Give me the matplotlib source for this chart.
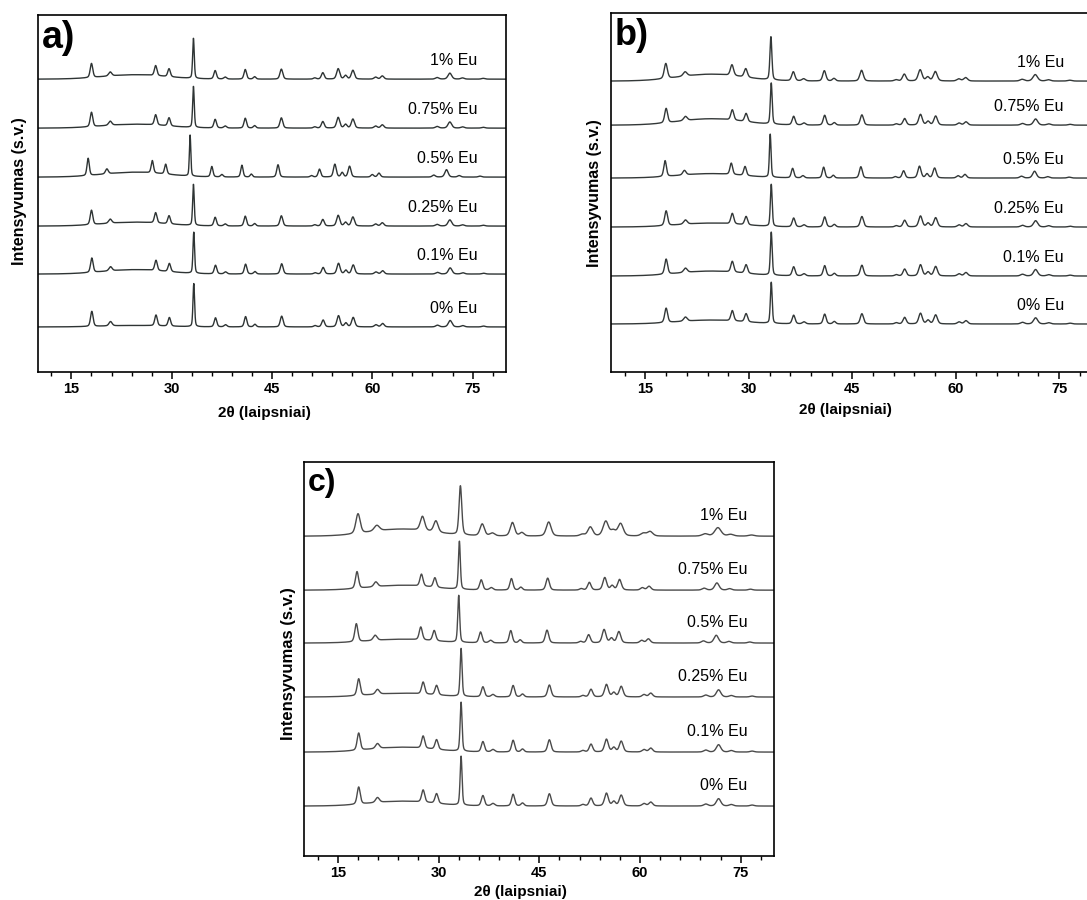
import matplotlib
import matplotlib.pyplot as plt
import numpy as np
from matplotlib.ticker import MultipleLocator, NullLocator

matplotlib.use("Agg")

plt.rcParams["font.family"] = ["Liberation Sans", "DejaVu Sans"]

FIG_W, FIG_H = 1087, 900

LABELS = ["0% Eu", "0.1% Eu", "0.25% Eu", "0.5% Eu", "0.75% Eu", "1% Eu"]

# reflections: 2theta, height relative to main peak, FWHM (deg)
PEAK_POS = [18.0, 20.8, 27.6, 29.6, 33.25, 36.5, 38.0, 41.0, 42.4, 46.4, 51.4,
            52.6, 54.9, 56.0, 57.1, 60.5, 61.5, 69.7, 71.6, 73.5, 76.6]
PEAK_REL = [0.35, 0.10, 0.25, 0.20, 1.0, 0.21, 0.05, 0.24, 0.06, 0.25, 0.03,
            0.16, 0.26, 0.09, 0.22, 0.05, 0.08, 0.04, 0.15, 0.03, 0.02]
PEAK_FWHM = [0.45, 0.55, 0.45, 0.45, 0.28, 0.45, 0.5, 0.45, 0.45, 0.5, 0.5,
             0.5, 0.55, 0.5, 0.55, 0.55, 0.55, 0.6, 0.65, 0.6, 0.6]

# per-sample values for each panel (order follows LABELS)
A_OFFSETS = [0.0, 1.08, 2.06, 3.06, 4.06, 5.06]
A_MAIN = [0.88, 0.84, 0.84, 0.84, 0.84, 0.82]
A_SHIFT = [0.05, 0.05, 0.0, -0.5, 0.0, 0.0]
A_HUMP = [0.03, 0.09, 0.08, 0.10, 0.08, 0.09]
A_MINOR = [1.0, 1.0, 1.0, 1.2, 1.0, 1.0]
A_WIDTH = [1.0, 1.0, 1.0, 0.9, 1.0, 1.0]

B_OFFSETS = [0.0, 0.98, 1.98, 2.98, 4.06, 4.96]
B_MAIN = [0.84, 0.88, 0.86, 0.88, 0.84, 0.88]
B_SHIFT = [0.0, 0.0, 0.0, -0.15, 0.0, -0.05]
B_HUMP = [0.08, 0.10, 0.08, 0.09, 0.13, 0.14]
B_MINOR = [1.0, 1.0, 1.0, 1.05, 1.0, 1.0]
B_WIDTH = [1.1, 1.1, 1.1, 1.0, 1.1, 1.2]

C_OFFSETS = [0.0, 1.0, 2.02, 3.02, 4.0, 5.0]
C_MAIN = [0.91, 0.91, 0.89, 0.87, 0.89, 0.91]
C_SHIFT = [0.1, 0.1, 0.1, -0.25, -0.15, 0.0]
C_HUMP = [0.09, 0.09, 0.07, 0.07, 0.09, 0.13]
C_MINOR = [1.0, 1.0, 1.0, 1.1, 1.0, 1.15]
C_WIDTH = [1.2, 1.2, 1.2, 1.2, 1.2, 1.7]

X_MIN, X_MAX = 10, 80


def pattern(x, main, shift, hump, minor, width):
    y = np.zeros_like(x)
    for pos, rel, fwhm in zip(PEAK_POS, PEAK_REL, PEAK_FWHM):
        w = fwhm * width
        h = main * rel * (1.0 if rel == 1.0 else minor)
        d = (x - pos - shift) / w
        lor = 1.0 / (1.0 + 4.0 * d ** 2)
        gau = np.exp(-4.0 * np.log(2) * d ** 2)
        y += h * (0.35 * lor + 0.65 * gau)
    # broad amorphous background between ~17 and 30 deg
    y += hump * np.exp(-4.0 * np.log(2) * ((x - 24.5) / 11.0) ** 2)
    return y


def px_rect(left, top, right, bottom):
    return [left / FIG_W, 1 - bottom / FIG_H, (right - left) / FIG_W, (bottom - top) / FIG_H]


def draw_panel(fig, rect, ylim, offsets, mains, shifts, humps, minors, widths,
               letter, letter_size, label_x, color):
    ax = fig.add_axes(rect)
    x = np.arange(X_MIN, X_MAX + 0.01, 0.02)
    for label, off, main, shift, hump, minor, width in zip(
            LABELS, offsets, mains, shifts, humps, minors, widths):
        ax.plot(x, off + pattern(x, main, shift, hump, minor, width), color=color, lw=1.0)
        ax.text(label_x, off + 0.38, label, ha="right", va="center", fontsize=11.5)
    ax.set_xlim(X_MIN, X_MAX)
    ax.set_ylim(*ylim)
    ax.xaxis.set_major_locator(MultipleLocator(15))
    ax.xaxis.set_minor_locator(MultipleLocator(3))
    ax.yaxis.set_major_locator(NullLocator())
    ax.tick_params(axis="x", which="major", direction="out", length=5, width=1.1, pad=2.5,
                   labelsize=10.5)
    ax.tick_params(axis="x", which="minor", direction="out", length=2.8, width=1.0)
    for label in ax.get_xticklabels():
        label.set_fontweight("bold")
    for spine in ax.spines.values():
        spine.set_linewidth(1.2)
    ax.text(0.008, 0.985, letter, transform=ax.transAxes, ha="left", va="top",
            fontsize=letter_size, fontweight="bold")
    return ax


def fig_text(fig, x, y, s, **kwargs):
    fig.text(x / FIG_W, 1 - y / FIG_H, s, ha="center", va="center", fontweight="bold", **kwargs)


def main():
    fig = plt.figure(figsize=(FIG_W / 100, FIG_H / 100), dpi=100)

    draw_panel(fig, px_rect(38, 15, 506, 372), (-0.92, 6.37), A_OFFSETS, A_MAIN, A_SHIFT,
               A_HUMP, A_MINOR, A_WIDTH, "a)", 27, 75.7, "#2e3434")
    draw_panel(fig, px_rect(611, 13, 1093.5, 372), (-0.98, 6.35), B_OFFSETS, B_MAIN, B_SHIFT,
               B_HUMP, B_MINOR, B_WIDTH, "b)", 26, 75.7, "#333838")
    draw_panel(fig, px_rect(304.3, 461.7, 774.3, 855.7), (-0.92, 6.38), C_OFFSETS, C_MAIN, C_SHIFT,
               C_HUMP, C_MINOR, C_WIDTH, "c)", 23, 76.0, "#4a4a4a")

    fig_text(fig, 20, 191.5, "Intensyvumas (s.v.)", rotation=90, fontsize=11.5)
    fig_text(fig, 595, 193, "Intensyvumas (s.v.)", rotation=90, fontsize=11.5)
    fig_text(fig, 288, 664, "Intensyvumas (s.v.)", rotation=90, fontsize=12)
    fig_text(fig, 264, 413, "2θ (laipsniai)", fontsize=11)
    fig_text(fig, 845, 410, "2θ (laipsniai)", fontsize=11)
    fig_text(fig, 520, 892, "2θ (laipsniai)", fontsize=11)

    fig.savefig("out.png", dpi=100)
    plt.close(fig)


if __name__ == "__main__":
    main()
